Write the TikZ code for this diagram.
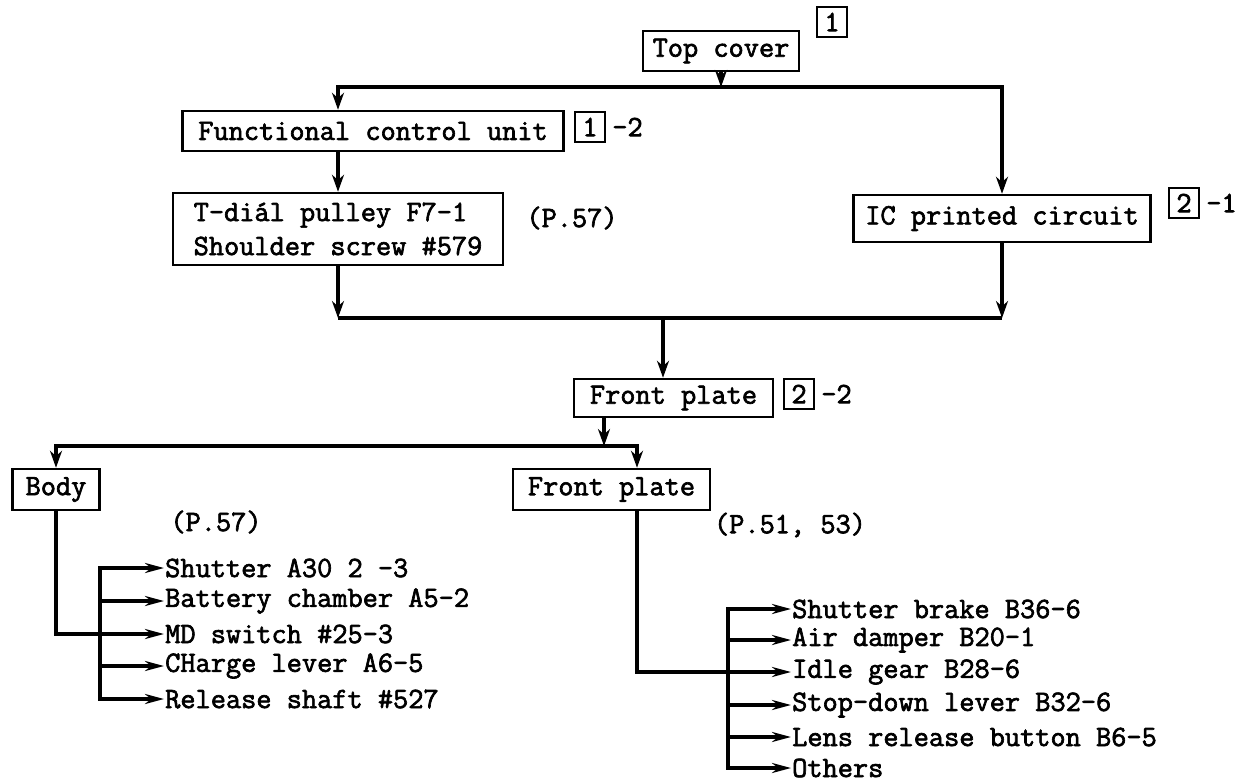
\documentclass[tikz,border=0pt]{standalone}
\usepackage{fontspec}
\newfontfamily\tw{Latin Modern Mono}[FakeBold=2.2]
\usetikzlibrary{arrows.meta,calc}
\begin{document}
\begin{tikzpicture}[x=1pt,y=-1pt,
  every node/.style={font=\tw\fontsize{29.5}{34}\selectfont, inner sep=0pt},
  box/.style={draw, line width=2.5pt},
  conn/.style={line width=3.2pt, line join=miter},
  arr/.style={conn, -{Stealth[length=17pt,width=12pt]}},
  larr/.style={conn, -{Stealth[length=19pt,width=10pt]}, shorten >=1pt},
  num/.style={draw, line width=2.2pt, minimum width=30pt, minimum height=30pt, inner sep=0pt},
]
\fill[white] (0,0) rectangle (1252,782);
\useasboundingbox (0,0) rectangle (1252,782);

% nodes
\node[box, minimum width=156, minimum height=40] (top) at (721,51) {Top cover};
\node[num] (n1) at (832,22) {1};

\node[box, minimum width=381, minimum height=40] (fcu) at (373,131) {Functional control unit};
\node[num] (n1b) at (590,127) {1};
\node[anchor=west] (n1bs) at ([xshift=6]n1b.east) {-2};

\node[box, minimum width=330, minimum height=72, align=left] (td) at (338,229) {T-di\'al pulley F7-1\\Shoulder screw \#579};
\node (p57a) at (572,218) {(P.57)};

\node[box, minimum width=297, minimum height=47] (ic) at (1002,218.5) {IC printed circuit};
\node[num] (n2a) at (1184,203) {2};
\node[anchor=west] (n2as) at ([xshift=6]n2a.east) {-1};

\node[box, minimum width=199, minimum height=38] (fp1) at (673.5,398) {Front plate};
\node[num] (n2b) at (799,394) {2};
\node[anchor=west] (n2bs) at ([xshift=6]n2b.east) {-2};

\node[box, minimum width=87, minimum height=41] (body) at (56,489.5) {Body};
\node[box, minimum width=197, minimum height=41] (fp2) at (611.5,489.5) {Front plate};
\node (p57b) at (216,522) {(P.57)};
\node (p51) at (790,525) {(P.51, 53)};

% left list
\node[anchor=west] (a1) at (165,568) {Shutter A30 2 -3};
\node[anchor=west] (a2) at (165,601) {Battery chamber A5-2};
\node[anchor=west] (a3) at (165,634) {MD switch \#25-3};
\node[anchor=west] (a4) at (165,666) {CHarge lever A6-5};
\node[anchor=west] (a5) at (165,699) {Release shaft \#527};

% right list
\node[anchor=west] (b1) at (792,609) {Shutter brake B36-6};
\node[anchor=west] (b2) at (792,640) {Air damper B20-1};
\node[anchor=west] (b3) at (792,672) {Idle gear B28-6};
\node[anchor=west] (b4) at (792,705) {Stop-down lever B32-6};
\node[anchor=west] (b5) at (792,737) {Lens release button B6-5};
\node[anchor=west] (b6) at (792,768) {Others};

% junction coordinates
\coordinate (j1) at (721,87);
\coordinate (j2) at (663,318);
\coordinate (j3) at (604,446);
\coordinate (j4) at (637,446);
\coordinate (lbus) at (100,600);
\coordinate (rbus) at (728,600);

% connectors
\draw[arr] (top.south) -- (j1);
\draw[arr] (j1) -| (td.north |- fcu.north);
\draw[arr] (j1) -| (ic.north);
\draw[arr] (fcu.south -| td.north) -- (td.north);

\draw[arr] (td.south) -- (td.south |- j2);
\draw[arr] (ic.south) -- (ic.south |- j2);
\draw[conn] (td.south |- j2) -- (ic.south |- j2);
\draw[arr] (j2) -- (j2 |- fp1.north);

\draw[arr] (fp1.south -| j3) -- (j3);
\draw[arr] (j3) -| (body.north);
\draw[arr] (j3) -| (fp2.north -| j4);

\draw[larr] (body.south) |- (a3.west);
\draw[larr] (lbus |- a2.west) |- (a1.west);
\draw[larr] (lbus |- a2.west) -- (a2.west);
\draw[conn] (lbus |- a2.west) -- (lbus |- a4.west);
\draw[larr] (lbus |- a4.west) -- (a4.west);
\draw[larr] (lbus |- a4.west) |- (a5.west);

\draw[larr] (fp2.south -| j4) |- (b3.west);
\draw[larr] (rbus |- b2.west) |- (b1.west);
\draw[larr] (rbus |- b2.west) -- (b2.west);
\draw[conn] (rbus |- b2.west) -- (rbus |- b5.west);
\draw[larr] (rbus |- b4.west) -- (b4.west);
\draw[larr] (rbus |- b5.west) -- (b5.west);
\draw[larr] (rbus |- b5.west) |- (b6.west);
\end{tikzpicture}
\end{document}
